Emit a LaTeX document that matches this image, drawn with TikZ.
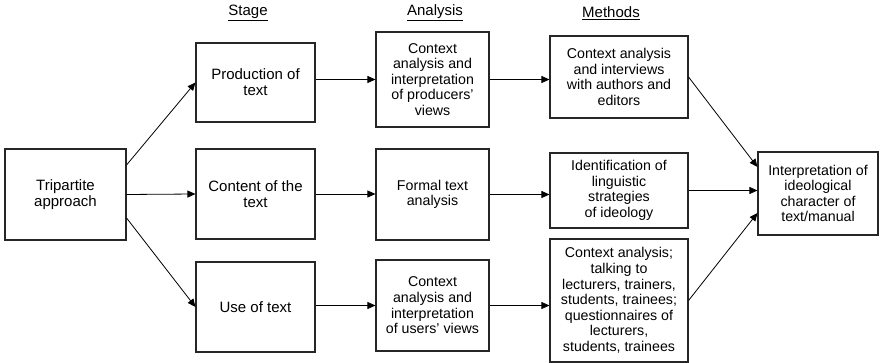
\documentclass[tikz,border=0pt]{standalone}
\usepackage{fontspec}
\setmainfont{Liberation Sans}
\usetikzlibrary{arrows.meta}
\tikzset{
  box/.style={draw=black!85, line width=1.1pt, inner sep=0pt, align=center,
    font=\fontsize{14.2}{15.6}\selectfont},
  bigbox/.style={box, font=\fontsize{15}{16}\selectfont},
  hdr/.style={inner sep=0pt, font=\fontsize{15}{16}\selectfont},
  arr/.style={draw=black, line width=0.8pt, -{Triangle[length=8pt,width=7pt]}}
}
\begin{document}
\begin{tikzpicture}[x=1pt,y=-1pt]
\useasboundingbox (0,0) rectangle (884,363);
% headers
\node[hdr] (hs) at (248,13) {\underline{Stage}};
\node[hdr] (ha) at (435,13) {\underline{Analysis}};
\node[hdr] (hm) at (611,13) {\underline{Methods}};
% boxes
\node[bigbox, minimum width=121pt, minimum height=91pt] (trip) at (65.5,194.5) {Tripartite\\approach};
\node[bigbox, minimum width=119pt, minimum height=79pt] (prod) at (255.5,82.5) {Production of\\text};
\node[bigbox, minimum width=119pt, minimum height=90pt] (cont) at (255.5,194) {Content of the\\text};
\node[bigbox, minimum width=119pt, minimum height=90pt] (use) at (255.5,307) {Use of text};
\node[box, minimum width=113pt, minimum height=95pt] (an1) at (432.5,79.5) {Context\\analysis and\\interpretation\\of producers'\\views};
\node[box, minimum width=113pt, minimum height=91pt] (an2) at (432.5,194.5) {Formal text\\analysis};
\node[box, minimum width=113pt, minimum height=91pt] (an3) at (432.5,305.5) {Context\\analysis and\\interpretation\\of users' views};
\node[box, minimum width=138pt, minimum height=82pt] (m1) at (619,77) {Context analysis\\and interviews\\with authors and\\editors};
\node[box, minimum width=138pt, minimum height=75pt] (m2) at (619,190.5) {Identification of\\linguistic\\strategies\\of ideology};
\node[box, minimum width=138pt, minimum height=123pt] (m3) at (619,300.5) {Context analysis;\\talking to\\lecturers, trainers,\\students, trainees;\\questionnaires of\\lecturers,\\students, trainees};
\node[box, minimum width=120pt, minimum height=83pt] (fin) at (818,193.5) {Interpretation of\\ideological\\character of\\text/manual};
% connectors
\draw[arr] ([yshift=29.5pt]trip.east) -- (prod.west);
\draw[arr] (trip.east) -- (cont.west);
\draw[arr] ([yshift=-23.5pt]trip.east) -- (use.west);
\draw[arr] (prod.east |- an1.west) -- (an1.west);
\draw[arr] (an1.east) -- (an1.east -| m1.west);
\draw[arr] (cont.east) -- (cont.east -| an2.west);
\draw[arr] (an2.east) -- (an2.east -| m2.west);
\draw[arr] (m2.east) -- (m2.east -| fin.west);
\draw[arr] (use.east |- an3.west) -- (an3.west);
\draw[arr] (an3.east) -- (an3.east -| m3.west);
\draw[arr] (m1.east) -- ([yshift=26.5pt]fin.west);
\draw[arr] (m3.east) -- ([yshift=-19.5pt]fin.west);
\end{tikzpicture}
\end{document}
